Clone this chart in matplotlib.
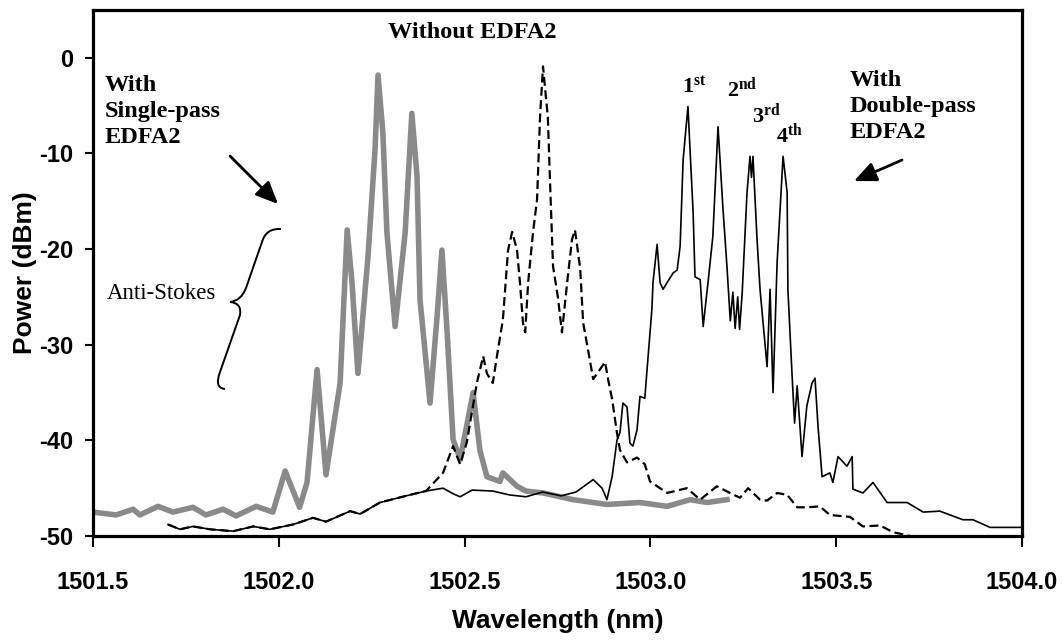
import matplotlib
matplotlib.use('Agg')
import matplotlib.pyplot as plt
from matplotlib import font_manager
from matplotlib.path import Path
from matplotlib.patches import PathPatch

# ---------------- data ----------------
single_wl = [1501.500, 1501.562, 1501.608, 1501.626, 1501.675, 1501.715, 1501.769, 1501.804,
             1501.850, 1501.885, 1501.939, 1501.984, 1502.017, 1502.056, 1502.076, 1502.103,
             1502.127, 1502.165, 1502.184, 1502.197, 1502.213, 1502.240, 1502.259, 1502.267,
             1502.280, 1502.291, 1502.313, 1502.340, 1502.358, 1502.372, 1502.380, 1502.407,
             1502.426, 1502.439, 1502.453, 1502.469, 1502.488, 1502.523, 1502.541, 1502.560,
             1502.595, 1502.603, 1502.641, 1502.665, 1502.711, 1502.792, 1502.883, 1502.972,
             1503.045, 1503.107, 1503.152, 1503.206]
single_db = [-47.5, -47.8, -47.2, -47.8, -46.9, -47.5, -47.0, -47.8,
             -47.2, -47.9, -46.9, -47.5, -43.2, -47.0, -44.4, -32.6,
             -43.6, -34.0, -18.0, -23.5, -33.0, -20.8, -9.6, -1.8,
             -7.8, -18.3, -28.1, -18.3, -5.8, -12.4, -25.3, -36.1,
             -27.0, -20.1, -28.7, -39.9, -42.0, -35.0, -41.0, -43.8,
             -44.3, -43.4, -44.8, -45.3, -45.5, -46.2, -46.7, -46.5,
             -46.9, -46.2, -46.5, -46.2]

without_wl = [1501.702, 1501.734, 1501.769, 1501.815, 1501.877, 1501.931, 1501.976, 1502.038,
              1502.092, 1502.127, 1502.192, 1502.219, 1502.272, 1502.353, 1502.396, 1502.442,
              1502.469, 1502.488, 1502.506, 1502.533, 1502.550, 1502.560, 1502.576, 1502.587,
              1502.603, 1502.617, 1502.628, 1502.641, 1502.649, 1502.657, 1502.663, 1502.671,
              1502.684, 1502.695, 1502.703, 1502.711, 1502.724, 1502.730, 1502.738, 1502.751,
              1502.762, 1502.776, 1502.789, 1502.797, 1502.811, 1502.819, 1502.832, 1502.846,
              1502.864, 1502.878, 1502.886, 1502.897, 1502.910, 1502.918, 1502.937, 1502.964,
              1502.985, 1502.999, 1503.045, 1503.098, 1503.134, 1503.179, 1503.214, 1503.241,
              1503.263, 1503.295, 1503.314, 1503.341, 1503.368, 1503.395, 1503.421, 1503.456,
              1503.483, 1503.537, 1503.572, 1503.618, 1503.653, 1503.699]
without_db = [-48.8, -49.3, -49.0, -49.3, -49.5, -49.0, -49.3, -48.8,
              -48.1, -48.5, -47.4, -47.7, -46.5, -45.7, -45.3, -43.4,
              -40.6, -42.5, -40.2, -34.0, -31.2, -33.0, -34.0, -31.2,
              -27.4, -20.1, -18.2, -20.1, -23.5, -27.7, -28.7, -23.5,
              -18.3, -14.8, -6.2, -0.9, -6.2, -13.1, -21.8, -25.0,
              -28.7, -23.5, -19.0, -18.0, -22.0, -27.7, -30.5, -33.6,
              -32.6, -31.8, -33.6, -35.7, -39.2, -41.0, -42.3, -41.8,
              -42.5, -44.3, -45.5, -45.0, -46.2, -44.8, -45.5, -46.0,
              -45.0, -46.2, -46.3, -45.5, -45.7, -47.0, -47.0, -46.9,
              -47.8, -48.0, -49.0, -48.9, -49.6, -50.0]

double_wl = [1501.702, 1501.734, 1501.769, 1501.815, 1501.877, 1501.931, 1501.976, 1502.038,
             1502.092, 1502.127, 1502.192, 1502.219, 1502.272, 1502.353, 1502.396, 1502.442,
             1502.470, 1502.488, 1502.520, 1502.576, 1502.620, 1502.665, 1502.710, 1502.760,
             1502.800, 1502.846, 1502.870, 1502.883, 1502.897, 1502.910, 1502.918, 1502.926,
             1502.937, 1502.945, 1502.953, 1502.964, 1502.972, 1502.985, 1502.991, 1503.004,
             1503.007, 1503.018, 1503.026, 1503.034, 1503.053, 1503.061, 1503.072, 1503.080,
             1503.088, 1503.101, 1503.115, 1503.120, 1503.134, 1503.142, 1503.155, 1503.168,
             1503.182, 1503.195, 1503.206, 1503.215, 1503.222, 1503.228, 1503.235, 1503.240,
             1503.247, 1503.260, 1503.268, 1503.272, 1503.276, 1503.287, 1503.295, 1503.314,
             1503.322, 1503.330, 1503.341, 1503.357, 1503.368, 1503.370, 1503.381, 1503.388,
             1503.395, 1503.408, 1503.421, 1503.435, 1503.443, 1503.451, 1503.462, 1503.483,
             1503.491, 1503.505, 1503.529, 1503.543, 1503.545, 1503.572, 1503.599, 1503.637,
             1503.691, 1503.734, 1503.779, 1503.841, 1503.868, 1503.914, 1504.000]
double_db = [-48.8, -49.3, -49.0, -49.3, -49.5, -49.0, -49.3, -48.8,
             -48.1, -48.5, -47.4, -47.7, -46.5, -45.7, -45.3, -45.0,
             -45.6, -45.9, -45.2, -45.3, -45.7, -45.9, -45.4, -45.8,
             -45.4, -44.1, -45.0, -46.2, -43.8, -40.0, -39.2, -36.1,
             -36.5, -40.3, -40.6, -38.9, -35.4, -35.6, -32.6, -26.3,
             -23.5, -19.5, -23.5, -24.2, -23.0, -22.5, -22.2, -19.7,
             -10.7, -5.1, -16.2, -22.9, -23.2, -28.1, -23.5, -18.7,
             -7.2, -15.6, -21.8, -27.5, -24.5, -28.3, -25.0, -28.4,
             -24.6, -14.1, -10.3, -12.5, -10.3, -19.0, -24.2, -32.3,
             -24.2, -35.0, -21.4, -10.3, -14.1, -24.2, -33.0, -38.2,
             -34.3, -41.7, -36.4, -34.0, -33.5, -38.5, -43.8, -43.4,
             -44.4, -41.7, -42.7, -41.7, -45.1, -45.5, -44.4, -46.5,
             -46.5, -47.5, -47.4, -48.3, -48.3, -49.1, -49.1]

x_ticks = [1501.5, 1502.0, 1502.5, 1503.0, 1503.5, 1504.0]
x_ticklabels = ['1501.5', '1502.0', '1502.5', '1503.0', '1503.5', '1504.0']
y_ticks = [0, -10, -20, -30, -40, -50]
y_ticklabels = ['0', '-10', '-20', '-30', '-40', '-50']

# ---------------- fonts ----------------
names = {f.name for f in font_manager.fontManager.ttflist}
if 'Liberation Sans Narrow' in names:
    tick_family, tick_size = 'Liberation Sans Narrow', 19
else:
    tick_family, tick_size = 'Liberation Sans', 17
serif = 'Liberation Serif'
plt.rcParams['mathtext.fontset'] = 'custom'
plt.rcParams['mathtext.rm'] = 'Liberation Serif:bold'
plt.rcParams['mathtext.it'] = 'Liberation Serif:bold'
plt.rcParams['mathtext.bf'] = 'Liberation Serif:bold'

# ---------------- figure ----------------
W, H = 1063, 641
fig = plt.figure(figsize=(W / 100, H / 100), dpi=100)
L, R, T, B = 93, 1022, 10, 536
ax = fig.add_axes([L / W, 1 - B / H, (R - L) / W, (B - T) / H])

ax.plot(single_wl, single_db, color='#8a8a8a', lw=4.0, solid_joinstyle='round', zorder=2)
ax.plot(without_wl, without_db, color='black', lw=1.6, linestyle=(0, (4, 2.0)), zorder=3)
ax.plot(double_wl, double_db, color='black', lw=1.2, zorder=4)

ax.set_xlim(1501.5, 1504.0)
ax.set_ylim(-50, 5)
ax.set_xticks(x_ticks)
ax.set_xticklabels(x_ticklabels)
ax.set_yticks(y_ticks)
ax.set_yticklabels(y_ticklabels)
for lab in ax.get_xticklabels() + ax.get_yticklabels():
    lab.set_fontfamily(tick_family)
    lab.set_fontweight('bold')
    lab.set_fontsize(tick_size)
ax.tick_params(axis='x', direction='out', length=8, width=1.5, pad=17)
ax.tick_params(axis='y', direction='out', length=6, width=1.5, pad=8)
for s in ax.spines.values():
    s.set_linewidth(2.3)

ax.set_xlabel('Wavelength (nm)', fontfamily='Liberation Sans', fontweight='bold', fontsize=19, labelpad=11)
ax.set_ylabel('Power (dBm)', fontfamily='Liberation Sans', fontweight='bold', fontsize=19, labelpad=2)

# ---------------- annotations ----------------
def px(x, y):
    return ((x - L) / (R - L), (B - y) / (B - T))

tfs = 17.5
ax.text(*px(105, 75), 'With\nSingle-pass\nEDFA2', transform=ax.transAxes, ha='left', va='top',
        fontfamily=serif, fontweight='bold', fontsize=tfs, linespacing=1.3)
ax.text(*px(388, 22), 'Without EDFA2', transform=ax.transAxes, ha='left', va='top',
        fontfamily=serif, fontweight='bold', fontsize=tfs)
ax.text(*px(850, 70), 'With\nDouble-pass\nEDFA2', transform=ax.transAxes, ha='left', va='top',
        fontfamily=serif, fontweight='bold', fontsize=tfs, linespacing=1.3)
ax.text(*px(107, 299), 'Anti-Stokes', transform=ax.transAxes, ha='left', va='baseline',
        fontfamily=serif, fontsize=16.5)

for (xx, yy, lab) in [(682, 93, r'1$^{st}$'), (727, 97, r'2$^{nd}$'),
                      (752, 122, r'3$^{rd}$'), (776, 142, r'4$^{th}$')]:
    ax.text(*px(xx, yy), lab, transform=ax.transAxes, ha='left', va='baseline',
            fontfamily=serif, fontweight='bold', fontsize=16)

arrow_kw = dict(arrowstyle='-|>,head_length=0.9,head_width=0.4', lw=2.0, color='black',
                mutation_scale=15, shrinkA=0, shrinkB=0)
ax.annotate('', xy=px(278, 204), xytext=px(230, 156), xycoords='axes fraction',
            textcoords='axes fraction', arrowprops=arrow_kw)
ax.annotate('', xy=px(854, 181), xytext=px(902, 160), xycoords='axes fraction',
            textcoords='axes fraction', arrowprops=arrow_kw)

# curly brace
verts = [px(281, 229), px(266, 228), px(262, 242),
         px(246, 288),
         px(241, 301), px(230, 302),
         px(242, 303), px(240, 315),
         px(220, 372),
         px(214, 388), px(225, 389)]
codes = [Path.MOVETO, Path.CURVE3, Path.CURVE3,
         Path.LINETO,
         Path.CURVE3, Path.CURVE3,
         Path.CURVE3, Path.CURVE3,
         Path.LINETO,
         Path.CURVE3, Path.CURVE3]
ax.add_patch(PathPatch(Path(verts, codes), transform=ax.transAxes, facecolor='none',
                       edgecolor='black', lw=1.4, clip_on=False))

fig.savefig('out.png', dpi=100)
